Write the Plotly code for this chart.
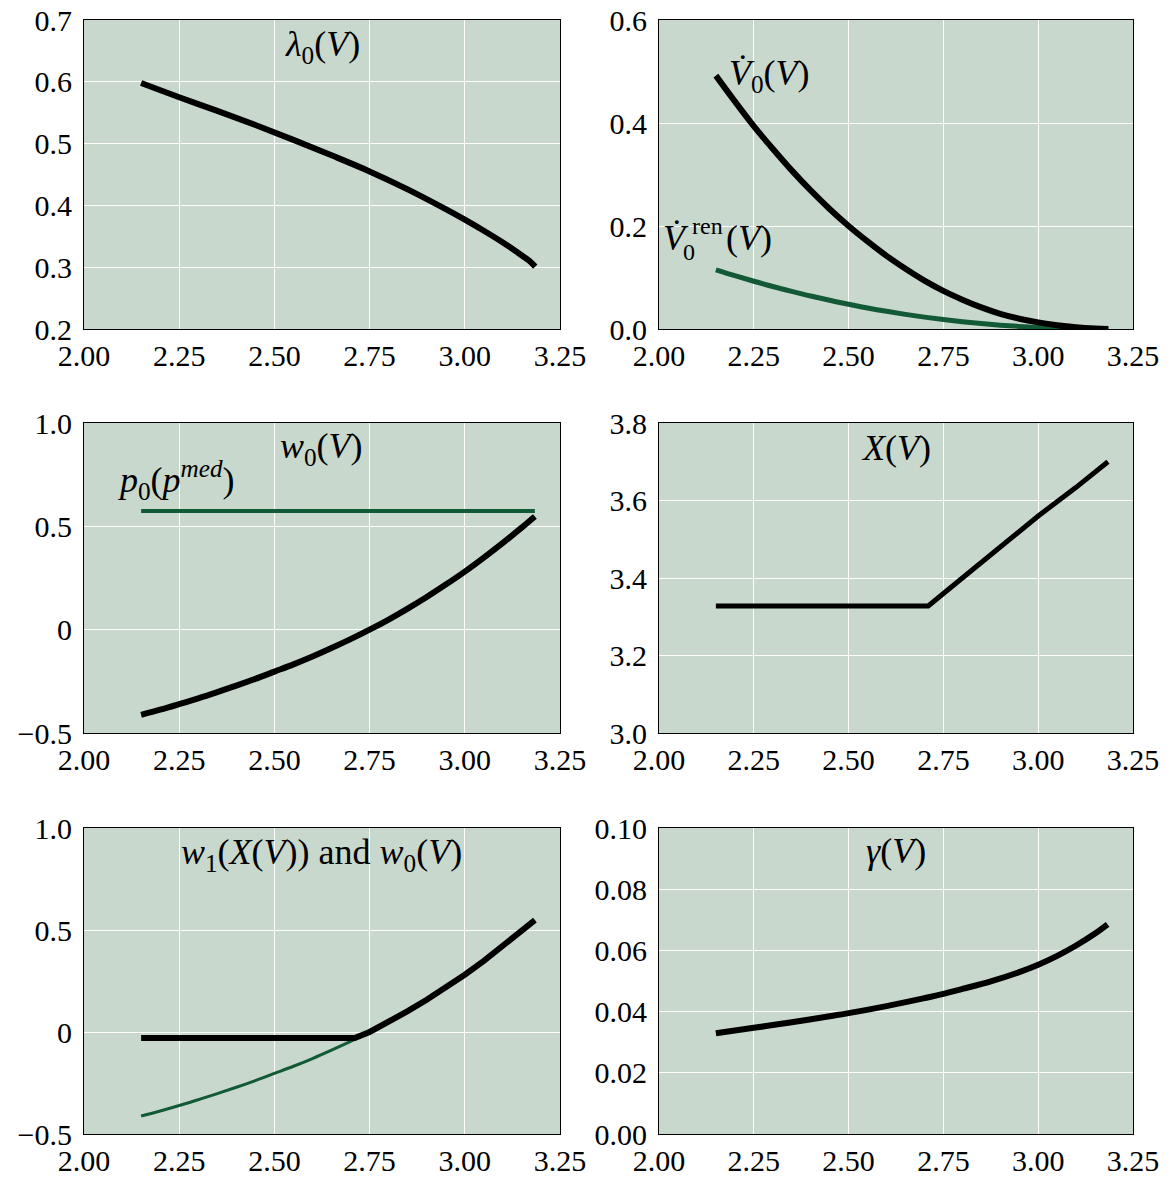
import plotly.graph_objects as go

W, H = 1168, 1178

# ---------------- data ----------------
V_lam = [2.15, 2.25, 2.35, 2.45, 2.55, 2.65, 2.75, 2.85, 2.95, 3.00, 3.05, 3.10, 3.15, 3.17, 3.185]
lam0 = [0.598, 0.575, 0.553, 0.530, 0.506, 0.481, 0.455, 0.426, 0.394, 0.377, 0.359, 0.340, 0.319, 0.310, 0.301]

V_dot = [2.15, 2.20, 2.25, 2.30, 2.35, 2.40, 2.45, 2.50, 2.55, 2.60, 2.65, 2.70, 2.75, 2.80, 2.85,
         2.90, 2.95, 3.00, 3.05, 3.10, 3.15, 3.185]
Vdot0 = [0.492, 0.442, 0.394, 0.350, 0.308, 0.269, 0.233, 0.200, 0.170, 0.142, 0.117, 0.094, 0.074,
         0.057, 0.042, 0.0295, 0.0200, 0.0128, 0.0072, 0.0033, 0.0009, 0.0]
Vdot0_ren = [0.115, 0.1035, 0.0927, 0.0825, 0.073, 0.064, 0.0557, 0.048, 0.0408, 0.0343, 0.0284,
             0.023, 0.0183, 0.0141, 0.0105, 0.0075, 0.0050, 0.0031, 0.0017, 0.0007, 0.0002, 0.0]

V_w = [2.15, 2.20, 2.25, 2.30, 2.35, 2.40, 2.45, 2.50, 2.55, 2.60, 2.65, 2.70, 2.75, 2.80, 2.85,
       2.90, 2.95, 3.00, 3.05, 3.10, 3.15, 3.184]
w0 = [-0.412, -0.387, -0.360, -0.332, -0.302, -0.271, -0.238, -0.203, -0.168, -0.130, -0.089, -0.046,
      0.000, 0.049, 0.102, 0.158, 0.218, 0.281, 0.349, 0.420, 0.495, 0.548]

V_p0 = [2.15, 3.184]
p0_med = [0.574, 0.574]

V_X = [2.15, 2.71, 2.80, 2.90, 3.00, 3.10, 3.184]
X_V = [3.328, 3.328, 3.400, 3.482, 3.560, 3.634, 3.700]

V_w1 = [2.15, 2.711, 2.75, 2.80, 2.85, 2.90, 2.95, 3.00, 3.05, 3.10, 3.15, 3.184]
w1X = [-0.030, -0.030, 0.000, 0.049, 0.102, 0.158, 0.218, 0.281, 0.349, 0.420, 0.495, 0.548]

V_g = [2.15, 2.25, 2.35, 2.45, 2.50, 2.60, 2.70, 2.75, 2.80, 2.875, 2.95, 3.00, 3.05, 3.10, 3.15, 3.183]
gamma = [0.0329, 0.0347, 0.0365, 0.0385, 0.0395, 0.0418, 0.0444, 0.0458, 0.0474, 0.0499, 0.0529,
         0.0553, 0.0582, 0.0616, 0.0655, 0.0685]

x_ticks = [2.00, 2.25, 2.50, 2.75, 3.00, 3.25]
x_ticklabels = ["2.00", "2.25", "2.50", "2.75", "3.00", "3.25"]
y1_ticks = [0.2, 0.3, 0.4, 0.5, 0.6, 0.7]
y1_labels = ["0.2", "0.3", "0.4", "0.5", "0.6", "0.7"]
y2_ticks = [0.0, 0.2, 0.4, 0.6]
y2_labels = ["0.0", "0.2", "0.4", "0.6"]
yw_ticks = [-0.5, 0.0, 0.5, 1.0]
yw_labels = ["\u22120.5", "0", "0.5", "1.0"]
yX_ticks = [3.0, 3.2, 3.4, 3.6, 3.8]
yX_labels = ["3.0", "3.2", "3.4", "3.6", "3.8"]
yg_ticks = [0.00, 0.02, 0.04, 0.06, 0.08, 0.10]
yg_labels = ["0.00", "0.02", "0.04", "0.06", "0.08", "0.10"]

# ---------------- style ----------------
BG = "#c9d8cc"
GREEN = "#115a35"
FONT = "Liberation Serif"
TICKSIZE = 30
ANNSIZE = 36

# panel pixel boxes (left, right, top, bottom)
cols = [(84, 560), (659, 1133)]
rows = [(20, 329), (423, 733), (828, 1134)]


def xd(c):
    return [cols[c][0] / W, cols[c][1] / W]


def yd(r):
    return [1 - rows[r][1] / H, 1 - rows[r][0] / H]


fig = go.Figure()

panels = [
    (1, 0, 0, [0.2, 0.7], y1_ticks, y1_labels),
    (2, 1, 0, [0.0, 0.6], y2_ticks, y2_labels),
    (3, 0, 1, [-0.5, 1.0], yw_ticks, yw_labels),
    (4, 1, 1, [3.0, 3.8], yX_ticks, yX_labels),
    (5, 0, 2, [-0.5, 1.0], yw_ticks, yw_labels),
    (6, 1, 2, [0.0, 0.10], yg_ticks, yg_labels),
]

layout = {}
for i, c, r, yr, yt, yl in panels:
    sfx = "" if i == 1 else str(i)
    layout["xaxis" + sfx] = dict(domain=xd(c), range=[2.0, 3.25], anchor="y" + sfx,
                                 tickvals=x_ticks, ticktext=x_ticklabels, automargin=False,
                                 showline=True, mirror=True, linecolor="black", linewidth=1,
                                 showgrid=True, gridcolor="white", gridwidth=1, zeroline=False,
                                 ticks="", ticklabelstandoff=0,
                                 tickfont=dict(family=FONT, size=TICKSIZE, color="black"))
    layout["yaxis" + sfx] = dict(domain=yd(r), range=yr, anchor="x" + sfx,
                                 tickvals=yt, ticktext=yl, automargin=False,
                                 showline=True, mirror=True, linecolor="black", linewidth=1,
                                 showgrid=True, gridcolor="white", gridwidth=1, zeroline=False,
                                 ticks="", ticklabelstandoff=5,
                                 tickfont=dict(family=FONT, size=TICKSIZE, color="black"))


def add(x, y, axis, color, width, shape="spline"):
    sfx = "" if axis == 1 else str(axis)
    line = dict(color=color, width=width, shape=shape)
    if shape == "spline":
        line["smoothing"] = 1.0
    fig.add_trace(go.Scatter(x=x, y=y, xaxis="x" + sfx, yaxis="y" + sfx, mode="lines",
                             line=line, showlegend=False, hoverinfo="skip"))


add(V_lam, lam0, 1, "black", 6)
add(V_dot, Vdot0_ren, 2, GREEN, 5)
add(V_dot, Vdot0, 2, "black", 6)
add(V_p0, p0_med, 3, GREEN, 4, "linear")
add(V_w, w0, 3, "black", 6)
add(V_X, X_V, 4, "black", 5, "linear")
add(V_w, w0, 5, GREEN, 3)
add(V_w1, w1X, 5, "black", 6, "linear")
add(V_g, gamma, 6, "black", 6)


def ann(text, px, py, size=ANNSIZE, xanchor="center"):
    return dict(text=text, x=px / W, y=1 - py / H, xref="paper", yref="paper",
                xanchor=xanchor, yanchor="middle", showarrow=False,
                font=dict(family=FONT, size=size, color="black"))


annotations = [
    ann("<i>λ</i><sub>0</sub>(<i>V</i>)", 322, 46),
    ann("<i>V\u0307</i><sub>0</sub>(<i>V</i>)", 769, 76),
    ann("<i>V\u0307</i>", 676, 238),
    ann("ren", 690, 226, size=24, xanchor="left"),
    ann("0", 681, 252, size=24, xanchor="left"),
    ann("(<i>V</i>)", 724, 238, xanchor="left"),
    ann("<i>w</i><sub>0</sub>(<i>V</i>)", 321, 448),
    ann("<i>p</i><sub>0</sub>(<i>p</i><sup><i>med</i></sup>)", 176, 480),
    ann("<i>X</i>(<i>V</i>)", 896, 448),
    ann("<i>w</i><sub>1</sub>(<i>X</i>(<i>V</i>)) and <i>w</i><sub>0</sub>(<i>V</i>)", 321, 854),
    ann("<i>γ</i>(<i>V</i>)", 896, 851),
]

fig.update_layout(width=W, height=H, margin=dict(l=0, r=0, t=0, b=0),
                  paper_bgcolor="white", plot_bgcolor=BG,
                  annotations=annotations, showlegend=False, **layout)

fig.write_html("out.html", config={"displayModeBar": False},
               post_script="document.body.style.margin='0';document.body.style.overflow='hidden';")
